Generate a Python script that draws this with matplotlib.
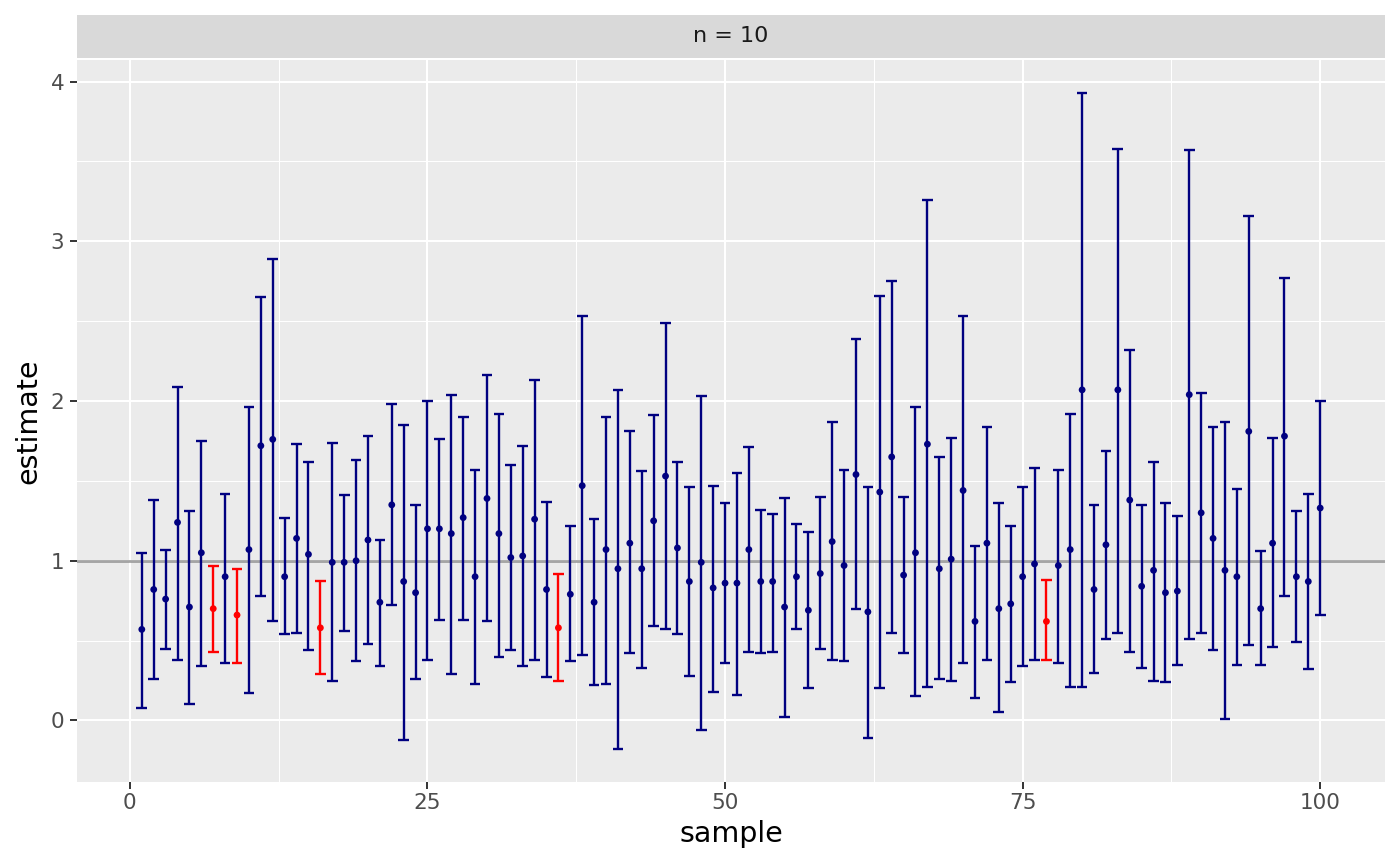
import numpy as np
import matplotlib
matplotlib.use("Agg")
import matplotlib.pyplot as plt

sample = np.arange(1, 101)
estimate = [0.57, 0.82, 0.76, 1.24, 0.71, 1.05, 0.70, 0.90, 0.66, 1.07,
            1.72, 1.76, 0.90, 1.14, 1.04, 0.58, 0.99, 0.99, 1.00, 1.13,
            0.74, 1.35, 0.87, 0.80, 1.20, 1.20, 1.17, 1.27, 0.90, 1.39,
            1.17, 1.02, 1.03, 1.26, 0.82, 0.58, 0.79, 1.47, 0.74, 1.07,
            0.95, 1.11, 0.95, 1.25, 1.53, 1.08, 0.87, 0.99, 0.83, 0.86,
            0.86, 1.07, 0.87, 0.87, 0.71, 0.90, 0.69, 0.92, 1.12, 0.97,
            1.54, 0.68, 1.43, 1.65, 0.91, 1.05, 1.73, 0.95, 1.01, 1.44,
            0.62, 1.11, 0.70, 0.73, 0.90, 0.98, 0.62, 0.97, 1.07, 2.07,
            0.82, 1.10, 2.07, 1.38, 0.84, 0.94, 0.80, 0.81, 2.04, 1.30,
            1.14, 0.94, 0.90, 1.81, 0.70, 1.11, 1.78, 0.90, 0.87, 1.33]
lower = [0.08, 0.26, 0.45, 0.38, 0.10, 0.34, 0.43, 0.36, 0.36, 0.17,
         0.78, 0.62, 0.54, 0.55, 0.44, 0.29, 0.25, 0.56, 0.37, 0.48,
         0.34, 0.72, -0.12, 0.26, 0.38, 0.63, 0.29, 0.63, 0.23, 0.62,
         0.40, 0.44, 0.34, 0.38, 0.27, 0.25, 0.37, 0.41, 0.22, 0.23,
         -0.18, 0.42, 0.33, 0.59, 0.57, 0.54, 0.28, -0.06, 0.18, 0.36,
         0.16, 0.43, 0.42, 0.43, 0.02, 0.57, 0.20, 0.45, 0.38, 0.37,
         0.70, -0.11, 0.20, 0.55, 0.42, 0.15, 0.21, 0.26, 0.25, 0.36,
         0.14, 0.38, 0.05, 0.24, 0.34, 0.38, 0.38, 0.36, 0.21, 0.21,
         0.30, 0.51, 0.55, 0.43, 0.33, 0.25, 0.24, 0.35, 0.51, 0.55,
         0.44, 0.01, 0.35, 0.47, 0.35, 0.46, 0.78, 0.49, 0.32, 0.66]
upper = [1.05, 1.38, 1.07, 2.09, 1.31, 1.75, 0.97, 1.42, 0.95, 1.96,
         2.65, 2.89, 1.27, 1.73, 1.62, 0.87, 1.74, 1.41, 1.63, 1.78,
         1.13, 1.98, 1.85, 1.35, 2.00, 1.76, 2.04, 1.90, 1.57, 2.16,
         1.92, 1.60, 1.72, 2.13, 1.37, 0.92, 1.22, 2.53, 1.26, 1.90,
         2.07, 1.81, 1.56, 1.91, 2.49, 1.62, 1.46, 2.03, 1.47, 1.36,
         1.55, 1.71, 1.32, 1.29, 1.39, 1.23, 1.18, 1.40, 1.87, 1.57,
         2.39, 1.46, 2.66, 2.75, 1.40, 1.96, 3.26, 1.65, 1.77, 2.53,
         1.09, 1.84, 1.36, 1.22, 1.46, 1.58, 0.88, 1.57, 1.92, 3.93,
         1.35, 1.69, 3.58, 2.32, 1.35, 1.62, 1.36, 1.28, 3.57, 2.05,
         1.84, 1.87, 1.45, 3.16, 1.06, 1.77, 2.77, 1.31, 1.42, 2.00]
true_value = 1.0
panel_label = "n = 10"
x_ticks = [0, 25, 50, 75, 100]
y_ticks = [0, 1, 2, 3, 4]

est = np.array(estimate)
lo = np.array(lower)
hi = np.array(upper)
miss = (hi < true_value) | (lo > true_value)
colors = np.where(miss, "#FF0000", "#000080")

fig = plt.figure(figsize=(14, 8.66), dpi=100)
ax = fig.add_axes([77/1400, (866-782)/866, (1385-77)/1400, (782-60)/866])
ax.set_facecolor("#EBEBEB")

# grid
for v in [12.5, 37.5, 62.5, 87.5]:
    ax.axvline(v, color="white", lw=0.75, zorder=0)
for v in [0.5, 1.5, 2.5, 3.5]:
    ax.axhline(v, color="white", lw=0.75, zorder=0)
for v in x_ticks:
    ax.axvline(v, color="white", lw=1.5, zorder=0)
for v in y_ticks:
    ax.axhline(v, color="white", lw=1.5, zorder=0)

ax.axhline(true_value, color="#7F7F7F", lw=2.0, alpha=0.7, zorder=1)

hw = 0.45
ax.vlines(sample, lo, hi, colors=colors, lw=1.7, zorder=2)
ax.hlines(lo, sample - hw, sample + hw, colors=colors, lw=1.7, zorder=2)
ax.hlines(hi, sample - hw, sample + hw, colors=colors, lw=1.7, zorder=2)
ax.scatter(sample, est, s=24, c=colors, zorder=3, linewidths=0)

ax.set_xlim(-4.445, 105.445)
ax.set_ylim(-0.3855, 4.1355)
ax.set_xticks(x_ticks)
ax.set_yticks(y_ticks)
ax.tick_params(axis="both", colors="#333333", length=4.7, width=1.4,
               labelsize=15.5, labelcolor="#4D4D4D")
ax.tick_params(axis="y", pad=4.5)
ax.tick_params(axis="x", pad=3)
for s in ax.spines.values():
    s.set_visible(False)
ax.set_xlabel("sample", fontsize=20.5, color="black", labelpad=5)
ax.set_ylabel("estimate", fontsize=20.5, color="black", labelpad=6)

# facet strip
strip = fig.add_axes([77/1400, (866-58)/866, (1385-77)/1400, 43/866])
strip.set_facecolor("#D9D9D9")
strip.set_xticks([]); strip.set_yticks([])
for s in strip.spines.values():
    s.set_visible(False)
strip.text(0.5, 0.5, panel_label, ha="center", va="center", fontsize=16,
           color="#1A1A1A", transform=strip.transAxes)

fig.savefig("out.png", dpi=100, facecolor="white")
